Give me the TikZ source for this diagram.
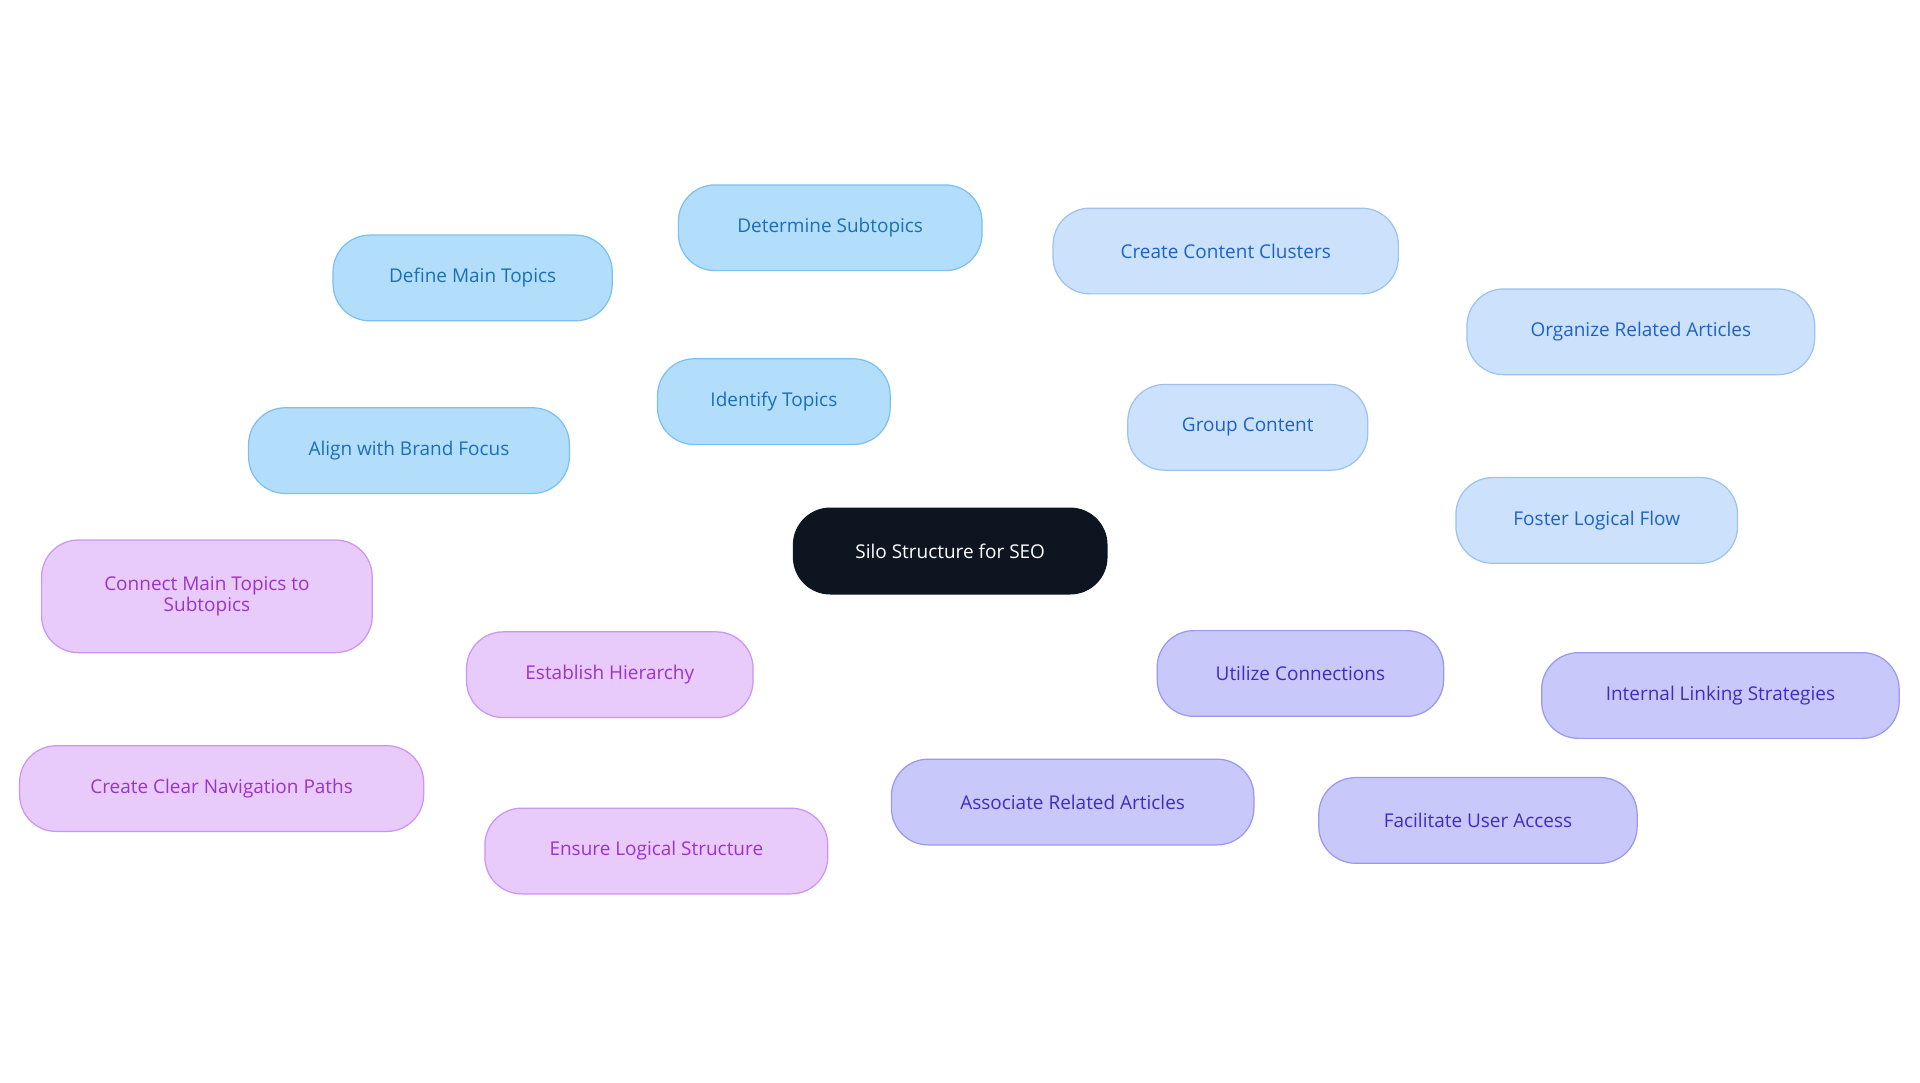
\documentclass[tikz,border=0pt]{standalone}
\usepackage{fontspec}
\setmainfont{Open Sans}
\usetikzlibrary{backgrounds}
\definecolor{bF}{HTML}{B3DEFB}\definecolor{bD}{HTML}{7BC0F0}\definecolor{bT}{HTML}{1A6FB8}
\definecolor{gF}{HTML}{CCE1FB}\definecolor{gD}{HTML}{9CC3F0}\definecolor{gT}{HTML}{1E63C4}
\definecolor{uF}{HTML}{C9C8FB}\definecolor{uD}{HTML}{9B98EE}\definecolor{uT}{HTML}{3A2FC0}
\definecolor{vF}{HTML}{E8CAFB}\definecolor{vD}{HTML}{CB95F0}\definecolor{vT}{HTML}{9A35C8}
\definecolor{cF}{HTML}{0D1520}
\begin{document}
\begin{tikzpicture}[x=1pt,y=-1pt,
 box/.style={rounded corners=30pt,minimum height=70pt,inner sep=0pt,align=center,line width=1pt,font=\fontsize{15.5}{17}\selectfont},
 bn/.style={box,fill=bF,draw=bD,text=bT},
 gn/.style={box,fill=gF,draw=gD,text=gT},
 un/.style={box,fill=uF,draw=uD,text=uT},
 vn/.style={box,fill=vF,draw=vD,text=vT},
 e/.style={line width=2.5pt}]
\useasboundingbox[fill=white] (0,0) rectangle (1568,884);
\node[box,fill=cF,draw=cF,text=white,minimum width=256pt] (c) at (776,450) {Silo Structure for SEO};
\node[bn,minimum width=190pt] (it) at (632,328) {Identify Topics};
\node[bn,minimum width=228pt] (dm) at (386,227) {Define Main Topics};
\node[bn,minimum width=248pt] (ds) at (678,186) {Determine Subtopics};
\node[bn,minimum width=262pt] (ab) at (334,368) {Align with Brand Focus};
\node[gn,minimum width=196pt] (gc) at (1019,349) {Group Content};
\node[gn,minimum width=282pt] (cc) at (1001,205) {Create Content Clusters};
\node[gn,minimum width=284pt] (or) at (1340,271) {Organize Related Articles};
\node[gn,minimum width=230pt] (fl) at (1304,425) {Foster Logical Flow};
\node[un,minimum width=234pt] (uc) at (1062,550) {Utilize Connections};
\node[un,minimum width=292pt] (il) at (1405,568) {Internal Linking Strategies};
\node[un,minimum width=296pt] (ar) at (876,655) {Associate Related Articles};
\node[un,minimum width=260pt] (fu) at (1207,670) {Facilitate User Access};
\node[vn,minimum width=234pt] (eh) at (498,551) {Establish Hierarchy};
\node[vn,minimum width=270pt,minimum height=92pt] (cm) at (169,487) {Connect Main Topics to\\Subtopics};
\node[vn,minimum width=330pt] (cn) at (181,644) {Create Clear Navigation Paths};
\node[vn,minimum width=280pt] (el) at (536,695) {Ensure Logical Structure};
\begin{scope}[on background layer]
\draw[e,bD] (c)--(it) (it)--(dm) (it)--(ds) (it)--(ab);
\draw[e,gD] (c)--(gc) (gc)--(cc) (gc)--(or) (gc)--(fl);
\draw[e,uD] (c)--(uc) (uc)--(il) (uc)--(ar) (uc)--(fu);
\draw[e,vD] (c)--(eh) (eh)--(cm) (eh)--(cn) (eh)--(el);
\end{scope}
\end{tikzpicture}
\end{document}
